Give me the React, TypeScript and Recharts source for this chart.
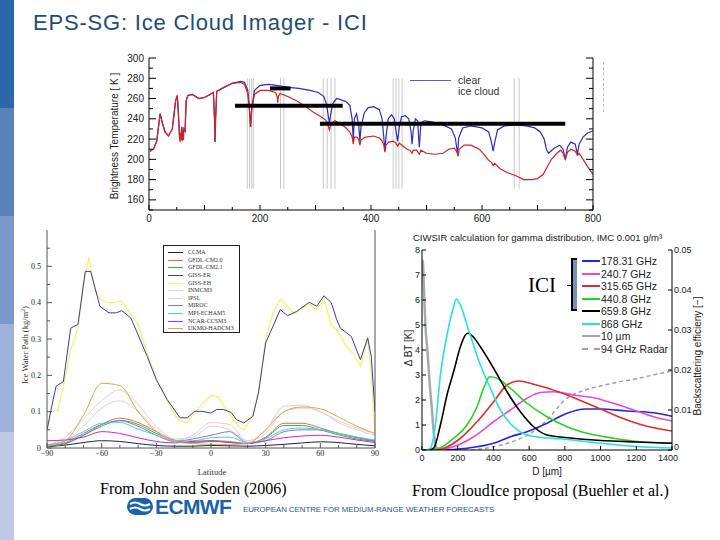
import React from 'react'
import { LineChart, Line, XAxis, YAxis, ReferenceLine, Legend } from 'recharts'

const SANS = '"Liberation Sans", Arial, sans-serif'
const SERIF = '"Liberation Serif", "Times New Roman", serif'

// ---------- top panel: brightness temperature spectrum (GHz, K) ----------
const CLEAR_GHZ = [2, 8, 14, 20, 24, 29, 35, 42, 48, 51, 53, 55, 57, 59, 61, 63, 65, 67, 70, 78, 90, 100, 110, 116, 118, 119, 120, 122, 135, 150, 165, 172, 178, 181, 183, 185, 190, 200, 215, 230, 250, 270, 290, 305, 315, 320, 323, 325, 327, 331, 338, 345, 355, 362, 366, 368, 370, 374, 378, 380, 382, 388, 395, 405, 415, 420, 423, 425, 427, 431, 437, 442, 445, 448, 451, 455, 462, 468, 472, 474, 476, 480, 484, 487, 490, 496, 510, 530, 545, 552, 556, 558, 565, 580, 600, 612, 617, 620, 623, 628, 640, 660, 680, 695, 705, 712, 716, 720, 730, 740, 746, 750, 754, 760, 768, 772, 775, 782, 790, 800]
const CLEAR_TB = [208, 210, 218, 245, 236, 227, 223, 230, 258, 263, 245, 222, 220, 232, 222, 230, 228, 258, 263, 264, 260, 261, 264, 266, 240, 217, 240, 267, 271, 275, 277, 276, 268, 250, 232, 250, 268, 273, 274, 273, 271, 270, 268, 266, 262, 254, 243, 236, 243, 255, 260, 259, 257, 253, 240, 219, 240, 245, 233, 218, 232, 246, 251, 252, 249, 240, 222, 208, 222, 240, 244, 240, 228, 218, 232, 242, 243, 240, 228, 215, 228, 240, 238, 212, 236, 238, 237, 234, 230, 221, 205, 221, 231, 233, 231, 227, 217, 208, 217, 229, 233, 234, 233, 231, 227, 220, 210, 206, 211, 214, 210, 200, 212, 217, 215, 205, 215, 222, 226, 228]

const CLOUD_GHZ = [2, 8, 14, 20, 24, 29, 35, 42, 48, 51, 53, 55, 56, 57, 58, 59, 60, 61, 62, 63, 65, 67, 70, 78, 90, 100, 110, 116, 118, 119, 120, 122, 135, 150, 165, 172, 178, 181, 183, 185, 190, 200, 215, 228, 231, 232, 233, 236, 250, 265, 280, 295, 310, 318, 322, 325, 328, 335, 345, 355, 362, 366, 368, 370, 375, 378, 380, 382, 390, 405, 415, 420, 423, 425, 427, 432, 440, 445, 448, 451, 458, 465, 470, 474, 476, 482, 487, 490, 500, 515, 530, 540, 550, 555, 557, 559, 568, 580, 595, 605, 612, 617, 620, 623, 632, 645, 660, 664, 675, 690, 700, 710, 718, 725, 735, 742, 746, 750, 754, 760, 768, 772, 775, 782, 790, 800]
const CLOUD_TB = [208, 210, 218, 245, 236, 227, 223, 230, 258, 263, 245, 222, 217, 226, 219, 232, 218, 226, 219, 230, 228, 258, 263, 264, 260, 261, 264, 266, 240, 217, 240, 267, 271, 275, 276, 274, 265, 248, 232, 248, 264, 268, 268, 266, 262, 256, 262, 265, 262, 258, 253, 247, 242, 239, 235, 229, 235, 238, 235, 231, 227, 222, 215, 222, 222, 219, 214, 219, 222, 223, 221, 218, 214, 207, 214, 217, 218, 216, 213, 216, 213, 210, 209, 206, 209, 209, 205, 209, 206, 205, 206, 210, 211, 207, 203, 210, 214, 214, 210, 204, 199, 197, 194, 196, 191, 187, 184, 183, 180, 180, 181, 185, 193, 200, 206, 209, 206, 200, 207, 210, 208, 204, 206, 200, 193, 185]

// ICI channel positions (GHz) and the three band bars (from, to, level K)
const ICI_CHANNELS = [177, 181, 185, 188, 237, 243, 314, 321, 328, 335, 440, 445, 450, 456, 658, 667]
const BAR_FROM = [218, 155, 308]
const BAR_TO = [255, 349, 750]
const BAR_LEVEL = [270, 253, 235]

const GHZ_TICKS = [0, 50, 100, 150, 200, 250, 300, 350, 400, 450, 500, 550, 600, 650, 700, 750, 800]
const TB_TICKS = [150, 160, 170, 180, 190, 200, 210, 220, 230, 240, 250, 260, 270, 280, 290, 300]

// ---------- bottom-left: zonal mean ice water path from GCMs ----------
const MODEL_NAMES = ['CCMA', 'GFDL-CM2.0', 'GFDL-CM2.1', 'GISS-ER', 'GISS-EH', 'INMCM3', 'IPSL', 'MIROC', 'MPI-ECHAM5', 'NCAR-CCSM3', 'UKMO-HADCM3']
const MODEL_COLORS = ['#202048', '#e26a6a', '#34b834', '#3a3ab4', '#f4f46a', '#d4d4d4', '#ecc8d8', '#9470c8', '#48d4d4', '#d028c4', '#e0a64a']

const LAT10 = [-90, -80, -70, -60, -50, -40, -30, -20, -10, 0, 10, 20, 30, 40, 50, 60, 70, 80, 90]
const IWP_CCMA = [0.003, 0.008, 0.015, 0.02, 0.018, 0.012, 0.007, 0.005, 0.005, 0.007, 0.006, 0.005, 0.007, 0.01, 0.014, 0.017, 0.015, 0.01, 0.006]
const IWP_GFDL20 = [0.005, 0.012, 0.035, 0.065, 0.082, 0.07, 0.045, 0.022, 0.015, 0.02, 0.018, 0.012, 0.03, 0.068, 0.068, 0.055, 0.04, 0.028, 0.02]
const IWP_GFDL21 = [0.005, 0.012, 0.035, 0.06, 0.076, 0.065, 0.04, 0.02, 0.014, 0.018, 0.016, 0.012, 0.028, 0.062, 0.062, 0.05, 0.036, 0.025, 0.018]
const IWP_INM = [0.008, 0.03, 0.08, 0.13, 0.16, 0.12, 0.06, 0.025, 0.03, 0.06, 0.05, 0.02, 0.05, 0.115, 0.118, 0.1, 0.075, 0.055, 0.04]
const IWP_IPSL = [0.006, 0.02, 0.06, 0.11, 0.13, 0.1, 0.05, 0.02, 0.035, 0.07, 0.065, 0.02, 0.04, 0.1, 0.11, 0.1, 0.07, 0.05, 0.035]
const IWP_MIROC = [0.005, 0.015, 0.04, 0.065, 0.075, 0.06, 0.035, 0.018, 0.025, 0.035, 0.045, 0.015, 0.02, 0.045, 0.05, 0.05, 0.04, 0.03, 0.02]
const IWP_MPI = [0.008, 0.02, 0.045, 0.068, 0.07, 0.052, 0.035, 0.02, 0.02, 0.028, 0.03, 0.015, 0.025, 0.05, 0.055, 0.05, 0.04, 0.03, 0.022]
const IWP_NCAR = [0.02, 0.022, 0.03, 0.045, 0.04, 0.028, 0.018, 0.014, 0.018, 0.02, 0.015, 0.012, 0.02, 0.028, 0.033, 0.035, 0.03, 0.022, 0.015]
const IWP_UKMO = [0.008, 0.02, 0.09, 0.178, 0.172, 0.1, 0.045, 0.018, 0.012, 0.01, 0.01, 0.012, 0.05, 0.1, 0.113, 0.108, 0.085, 0.06, 0.04]

const ER_LAT = [-90, -87, -85, -81, -77, -73, -69, -66, -61, -56, -52, -49, -44, -42, -35, -30, -24, -17, -13, -9, -5, 0, 3, 7, 11, 14, 18, 23, 26, 30, 34, 38, 42, 47, 54, 58, 62, 66, 69, 71, 77, 82, 86, 88, 90]
const IWP_ER = [0.05, 0.124, 0.17, 0.183, 0.33, 0.34, 0.486, 0.486, 0.39, 0.372, 0.372, 0.378, 0.358, 0.335, 0.252, 0.188, 0.133, 0.083, 0.083, 0.101, 0.101, 0.096, 0.106, 0.106, 0.098, 0.078, 0.069, 0.087, 0.151, 0.289, 0.335, 0.381, 0.364, 0.376, 0.401, 0.39, 0.419, 0.4, 0.353, 0.33, 0.307, 0.243, 0.303, 0.25, 0.1]
const EH_LAT = [-90, -88, -84, -81, -77, -73, -70, -67, -64, -61, -57, -53, -49, -44, -40, -35, -30, -25, -20, -17, -13, -10, -5, 0, 4, 8, 12, 16, 18, 22, 26, 30, 34, 38, 42, 46, 50, 54, 58, 62, 66, 70, 74, 78, 82, 86, 88, 90]
const IWP_EH = [0.045, 0.1, 0.105, 0.17, 0.27, 0.33, 0.45, 0.525, 0.44, 0.41, 0.4, 0.4, 0.405, 0.37, 0.34, 0.26, 0.19, 0.14, 0.09, 0.075, 0.07, 0.09, 0.12, 0.145, 0.14, 0.11, 0.08, 0.055, 0.05, 0.08, 0.15, 0.3, 0.37, 0.41, 0.39, 0.37, 0.385, 0.395, 0.38, 0.41, 0.34, 0.32, 0.28, 0.26, 0.225, 0.3, 0.2, 0.04]

const LAT_TICKS = [-90, -80, -70, -60, -50, -40, -30, -20, -10, 0, 10, 20, 30, 40, 50, 60, 70, 80, 90]
const IWP_TICKS = [0, 0.05, 0.1, 0.15, 0.2, 0.25, 0.3, 0.35, 0.4, 0.45, 0.5, 0.55]

// ---------- bottom-right: CIWSIR sensitivity vs particle size ----------
const BAND_NAMES = ['178.31 GHz', '240.7 GHz', '315.65 GHz', '440.8 GHz', '659.8 GHz', '868 GHz', '10 µm', '94 GHz Radar']
const BAND_COLORS = ['#2424dc', '#e24ae2', '#e02c2c', '#26d226', '#000000', '#26e2e2', '#a8a8a8', '#a0a0a0']

const D_178 = [0, 100, 252, 401, 495, 588, 700, 812, 915, 999, 1148, 1297, 1400]
const BT_178 = [0, 0, 0.07, 0.27, 0.53, 0.73, 1.07, 1.47, 1.64, 1.64, 1.56, 1.49, 1.35]
const D_240 = [0, 100, 177, 289, 401, 495, 588, 663, 737, 849, 961, 1073, 1185, 1297, 1400]
const BT_240 = [0, 0.02, 0.13, 0.53, 1.13, 1.6, 2.07, 2.3, 2.33, 2.2, 2.09, 1.87, 1.6, 1.33, 1.16]
const D_315 = [0, 60, 121, 215, 308, 401, 476, 541, 625, 719, 812, 924, 1036, 1148, 1260, 1400]
const BT_315 = [0, 0.01, 0.07, 0.47, 1.13, 1.93, 2.6, 2.76, 2.63, 2.44, 2.2, 1.87, 1.53, 1.2, 0.95, 0.76]
const D_440 = [0, 50, 103, 177, 252, 308, 345, 379, 420, 495, 588, 700, 812, 924, 1073, 1223, 1400]
const BT_440 = [0, 0.01, 0.09, 0.47, 1.0, 1.73, 2.47, 2.93, 2.87, 2.47, 1.87, 1.33, 0.93, 0.67, 0.47, 0.33, 0.27]
const D_659 = [0, 40, 65, 103, 140, 177, 215, 243, 258, 290, 327, 401, 476, 551, 625, 700, 800, 900, 1000, 1200, 1400]
const BT_659 = [0, 0.01, 0.07, 1.0, 2.2, 3.13, 4.13, 4.6, 4.67, 4.5, 4.13, 3.27, 2.33, 1.53, 0.93, 0.6, 0.5, 0.43, 0.38, 0.32, 0.27]
const D_868 = [0, 30, 47, 75, 103, 140, 177, 192, 215, 252, 327, 383, 439, 513, 588, 700, 800, 900, 1000, 1100, 1200, 1400]
const BT_868 = [0, 0.02, 0.07, 1.0, 3.0, 4.6, 5.73, 6.04, 5.8, 5.0, 3.4, 2.47, 1.6, 0.93, 0.6, 0.48, 0.43, 0.35, 0.27, 0.2, 0.14, 0.08]
const D_IR = [0, 5, 10, 19, 30, 37, 47, 55, 62, 75, 90, 100]
const BT_IR = [7.6, 7.5, 6.6, 5.0, 4.0, 3.3, 2.3, 1.7, 1.0, 0.2, 0.02, 0]
const D_RADAR = [0, 250, 400, 500, 600, 700, 800, 900, 1000, 1100, 1200, 1300, 1400]
const BSC_RADAR = [0, 0, 0.0008, 0.002, 0.004, 0.0075, 0.0125, 0.0148, 0.016, 0.017, 0.0178, 0.0188, 0.0198]

const D_TICKS = [0, 200, 400, 600, 800, 1000, 1200, 1400]
const DBT_TICKS = [0, 1, 2, 3, 4, 5, 6, 7, 8]
const BSC_TICKS = [0, 0.01, 0.02, 0.03, 0.04, 0.05]

const SIDEBAR = ['#2c67a6', '#5a82ba', '#7c98c9', '#9db1d9', '#bdc9e6']

const pts = (xs: number[], ys: number[]) => xs.map((x, i) => ({ x, y: ys[i] }))

type Side = 'bottom' | 'top' | 'left' | 'right'
interface TickOpts {
  side: Side
  len: (v: number) => number
  label?: (v: number) => string
  nudge?: (v: number) => number
  size?: number
  font?: string
  gap?: number
  color?: string
}

// ticks drawn inward from the frame, labels outside
const tickRenderer = (o: TickOpts) => (props: any) => {
  const { x, y, payload } = props
  const v = payload.value as number
  const l = o.len(v)
  const txt = o.label ? o.label(v) : ''
  const gap = o.gap ?? 3
  const shift = o.nudge ? o.nudge(v) : 0
  const stroke = o.color ?? '#000'
  const tp = { fontSize: o.size ?? 10, fontFamily: o.font ?? SANS, fill: '#222' }
  if (o.side === 'bottom') {
    return (
      <g>
        {l > 0 && <line x1={x} y1={y} x2={x} y2={y - l} stroke={stroke} />}
        {txt && <text x={x + shift} y={y + gap} dy="0.75em" textAnchor="middle" {...tp}>{txt}</text>}
      </g>
    )
  }
  if (o.side === 'top') {
    return <g>{l > 0 && <line x1={x} y1={y} x2={x} y2={y + l} stroke={stroke} />}</g>
  }
  if (o.side === 'left') {
    return (
      <g>
        {l > 0 && <line x1={x} y1={y} x2={x + l} y2={y} stroke={stroke} />}
        {txt && <text x={x - gap} y={y + shift} dy="0.35em" textAnchor="end" {...tp}>{txt}</text>}
      </g>
    )
  }
  return (
    <g>
      {l > 0 && <line x1={x} y1={y} x2={x - l} y2={y} stroke={stroke} />}
      {txt && <text x={x + gap} y={y + shift} dy="0.35em" textAnchor="start" {...tp}>{txt}</text>}
    </g>
  )
}

const noTick = () => <g />

const SpectrumKey = () => (
  <div style={{ fontFamily: SANS, fontSize: 10.5, color: '#333', lineHeight: '11px', whiteSpace: 'nowrap' }}>
    <div style={{ display: 'flex', alignItems: 'center' }}>
      <span style={{ display: 'inline-block', width: 41, borderTop: '1px solid #5a5ad0', marginRight: 7 }} />
      clear
    </div>
    <div style={{ paddingLeft: 48 }}>ice cloud</div>
  </div>
)

function SpectrumPanel() {
  const clear = pts(CLEAR_GHZ, CLEAR_TB)
  const cloud = pts(CLOUD_GHZ, CLOUD_TB)
  return (
    <div style={{ position: 'absolute', left: 100, top: 45 }}>
      <LineChart width={520} height={190} margin={{ top: 13, right: 0, bottom: 0, left: 0 }}>
        <XAxis
          dataKey="x" type="number" domain={[0, 800]} ticks={GHZ_TICKS} interval={0} allowDataOverflow
          height={25} tickSize={0} tickMargin={0} tickLine={false} axisLine={{ stroke: '#000' }}
          tick={tickRenderer({ side: 'bottom', len: v => (v % 100 === 0 ? 5 : 3), label: v => (v % 200 === 0 ? String(v) : ''), gap: 4 })}
        />
        <XAxis
          xAxisId="top" orientation="top" dataKey="x" type="number" domain={[0, 800]} ticks={GHZ_TICKS} interval={0}
          allowDataOverflow height={0} tickSize={0} tickMargin={0} tickLine={false} axisLine={{ stroke: '#000' }}
          tick={tickRenderer({ side: 'top', len: v => (v % 100 === 0 ? 5 : 3) })}
        />
        <YAxis
          type="number" domain={[150, 300]} ticks={TB_TICKS} interval={0} allowDataOverflow width={49}
          tickSize={0} tickMargin={0} tickLine={false} axisLine={{ stroke: '#000' }}
          tick={tickRenderer({ side: 'left', len: v => (v % 20 === 0 ? 7 : 4), label: v => (v % 20 === 0 && v >= 160 ? String(v) : ''), gap: 5 })}
        />
        <YAxis
          yAxisId="right" orientation="right" type="number" domain={[150, 300]} ticks={TB_TICKS} interval={0}
          allowDataOverflow width={27} tickSize={0} tickMargin={0} tickLine={false} axisLine={{ stroke: '#000' }}
          tick={tickRenderer({ side: 'right', len: v => (v % 20 === 0 ? 7 : 4) })}
        />
        {ICI_CHANNELS.map(f => (
          <ReferenceLine key={`ch${f}`} segment={[{ x: f, y: 171 }, { x: f, y: 280 }]} stroke="#c8c8c8" strokeWidth={1} />
        ))}
        <Line data={clear} dataKey="y" name="clear" stroke="#2c2cc4" strokeWidth={1.2} dot={false} isAnimationActive={false} />
        <Line data={cloud} dataKey="y" name="ice cloud" stroke="#d42222" strokeWidth={1.2} dot={false} isAnimationActive={false} />
        {BAR_FROM.map((f, i) => (
          <ReferenceLine key={`bar${i}`} segment={[{ x: f, y: BAR_LEVEL[i] }, { x: BAR_TO[i], y: BAR_LEVEL[i] }]} stroke="#000" strokeWidth={4} />
        ))}
        <Legend
          layout="vertical" align="center" verticalAlign="middle"
          wrapperStyle={{ left: 310, top: 30, width: 110 }}
          content={() => <SpectrumKey />}
        />
      </LineChart>
    </div>
  )
}

const ModelKey = () => (
  <div style={{ border: '1px solid #222', background: '#fff', padding: '3px 4px', width: 77, height: 88, boxSizing: 'border-box' }}>
    {MODEL_NAMES.map((n, i) => (
      <div key={n} style={{ display: 'flex', alignItems: 'center', height: 7.6 }}>
        <span style={{ display: 'inline-block', width: 15, borderTop: `1px solid ${MODEL_COLORS[i]}`, marginRight: 5 }} />
        <span style={{ fontSize: 6, fontFamily: SERIF, color: '#333', lineHeight: '7px', whiteSpace: 'nowrap' }}>{n}</span>
      </div>
    ))}
  </div>
)

function IwpPanel() {
  const small = [IWP_CCMA, IWP_GFDL20, IWP_GFDL21, null, null, IWP_INM, IWP_IPSL, IWP_MIROC, IWP_MPI, IWP_NCAR, IWP_UKMO]
  const fmtLat = (v: number) => (v % 30 === 0 ? (v < 0 ? `−${-v}` : String(v)) : '')
  const fmtIwp = (v: number) => (Math.round(v * 100) % 10 === 0 ? String(v) : '')
  return (
    <div style={{ position: 'absolute', left: 20, top: 225 }}>
      <LineChart width={370} height={245} margin={{ top: 5, right: 0, bottom: 0, left: 0 }}>
        <XAxis
          dataKey="x" type="number" domain={[-90, 90]} ticks={LAT_TICKS} interval={0} allowDataOverflow
          height={22} tickSize={0} tickMargin={0} tickLine={false} axisLine={{ stroke: '#555' }}
          tick={tickRenderer({ side: 'bottom', len: v => (v % 30 === 0 ? 5 : 3), label: fmtLat, size: 8, font: SERIF, gap: 2, color: '#555' })}
        />
        <XAxis
          xAxisId="top" orientation="top" dataKey="x" type="number" domain={[-90, 90]} allowDataOverflow
          height={0} tickLine={false} axisLine={{ stroke: '#555' }} tick={noTick}
        />
        <YAxis
          type="number" domain={[0, 0.6]} ticks={IWP_TICKS} interval={0} allowDataOverflow width={27}
          tickSize={0} tickMargin={0} tickLine={false} axisLine={{ stroke: '#555' }}
          tick={tickRenderer({ side: 'left', len: v => (Math.round(v * 100) % 10 === 0 ? 5 : 3), label: fmtIwp, size: 8, font: SERIF, gap: 6, color: '#555' })}
        />
        <YAxis
          yAxisId="right" orientation="right" type="number" domain={[0, 0.6]} allowDataOverflow width={15}
          tickLine={false} axisLine={{ stroke: '#555' }} tick={noTick}
        />
        {small.map((vals, i) =>
          vals ? (
            <Line key={MODEL_NAMES[i]} data={pts(LAT10, vals)} dataKey="y" name={MODEL_NAMES[i]} type="monotone"
              stroke={MODEL_COLORS[i]} strokeWidth={1} dot={false} isAnimationActive={false} />
          ) : null
        )}
        <Line data={pts(EH_LAT, IWP_EH)} dataKey="y" name="GISS-EH" stroke={MODEL_COLORS[4]} strokeWidth={1.3} dot={false} isAnimationActive={false} />
        <Line data={pts(ER_LAT, IWP_ER)} dataKey="y" name="GISS-ER" stroke={MODEL_COLORS[3]} strokeWidth={1} dot={false} isAnimationActive={false} />
        <Legend
          layout="vertical" align="center" verticalAlign="middle"
          wrapperStyle={{ left: 143, top: 20, width: 77 }}
          content={() => <ModelKey />}
        />
      </LineChart>
    </div>
  )
}

const BandKey = () => (
  <div style={{ fontFamily: SANS, fontSize: 10.5, color: '#222', whiteSpace: 'nowrap' }}>
    {BAND_NAMES.map((n, i) => (
      <div key={n} style={{ display: 'flex', alignItems: 'center', height: 12.5 }}>
        <span
          style={{
            display: 'inline-block', width: 18, marginRight: 1,
            borderTop: i === 7 ? `2px dashed ${BAND_COLORS[i]}` : `2px solid ${BAND_COLORS[i]}`,
          }}
        />
        {n}
      </div>
    ))}
  </div>
)

function SensitivityPanel() {
  const series = [
    pts(D_178, BT_178), pts(D_240, BT_240), pts(D_315, BT_315), pts(D_440, BT_440),
    pts(D_659, BT_659), pts(D_868, BT_868),
  ]
  return (
    <div style={{ position: 'absolute', left: 400, top: 240 }}>
      <LineChart width={320} height={235} margin={{ top: 10, right: 0, bottom: 0, left: 0 }}>
        <XAxis
          dataKey="x" type="number" domain={[0, 1400]} ticks={D_TICKS} interval={0} allowDataOverflow
          height={25} tickSize={0} tickMargin={0} tickLine={false} axisLine={{ stroke: '#000' }}
          tick={tickRenderer({ side: 'bottom', len: () => 4, label: v => String(v), nudge: v => (v === 1400 ? -4 : 0), size: 9, gap: 4.5 })}
        />
        <YAxis
          type="number" domain={[0, 8]} ticks={DBT_TICKS} interval={0} allowDataOverflow width={22}
          tickSize={0} tickMargin={0} tickLine={false} axisLine={{ stroke: '#000' }}
          tick={tickRenderer({ side: 'left', len: () => 4, label: v => String(v), size: 9, gap: 2 })}
        />
        <YAxis
          yAxisId="bsc" orientation="right" type="number" domain={[0, 0.05]} ticks={BSC_TICKS} interval={0}
          allowDataOverflow width={48} tickSize={0} tickMargin={0} tickLine={false} axisLine={{ stroke: '#000' }}
          tick={tickRenderer({ side: 'right', len: () => 4, label: v => (v === 0 ? '0' : v.toFixed(2)), nudge: v => (v === 0 ? -3 : 0), size: 9, gap: 2 })}
        />
        <Line data={pts(D_RADAR, BSC_RADAR)} yAxisId="bsc" dataKey="y" name={BAND_NAMES[7]} type="monotone"
          stroke={BAND_COLORS[7]} strokeWidth={1.5} strokeDasharray="4 3" dot={false} isAnimationActive={false} />
        <Line data={pts(D_IR, BT_IR)} dataKey="y" name={BAND_NAMES[6]} type="monotone"
          stroke={BAND_COLORS[6]} strokeWidth={2.5} dot={false} isAnimationActive={false} />
        {series.map((d, i) => (
          <Line key={BAND_NAMES[i]} data={d} dataKey="y" name={BAND_NAMES[i]} type="monotone"
            stroke={BAND_COLORS[i]} strokeWidth={1.6} dot={false} isAnimationActive={false} />
        ))}
        <Legend
          layout="vertical" align="center" verticalAlign="middle"
          wrapperStyle={{ left: 182, top: 15, width: 110 }}
          content={() => <BandKey />}
        />
      </LineChart>
    </div>
  )
}

const abs = (left: number, top: number, extra: React.CSSProperties = {}): React.CSSProperties => ({
  position: 'absolute', left, top, whiteSpace: 'nowrap', ...extra,
})

const vText = (cx: number, cy: number, extra: React.CSSProperties = {}): React.CSSProperties => ({
  position: 'absolute', left: cx, top: cy, whiteSpace: 'nowrap',
  transform: 'translate(-50%, -50%) rotate(-90deg)', ...extra,
})

export default function App() {
  return (
    <div style={{ position: 'absolute', left: 0, top: 0, width: 720, height: 540, background: '#fff', overflow: 'hidden' }}>
      {SIDEBAR.map((c, i) => (
        <div key={c} style={{ position: 'absolute', left: 0, top: i * 108, width: 14, height: 108, background: c }} />
      ))}

      <div style={abs(33, 12, { fontFamily: SANS, fontSize: 22, lineHeight: '22px', letterSpacing: 0.8, color: '#1f4d74' })}>
        EPS-SG: Ice Cloud Imager - ICI
      </div>

      <SpectrumPanel />
      <div style={vText(114, 136, { fontFamily: SANS, fontSize: 10, color: '#222' })}>Brightness Temperature [ K ]</div>
      <div style={abs(603, 62, { height: 50, borderLeft: '1px dashed #bbb' })} />

      <IwpPanel />
      <div style={vText(25, 345, { fontFamily: SERIF, fontSize: 8.5, color: '#333' })}>
        Ice Water Path (kg/m<sup style={{ fontSize: 6 }}>2</sup>)
      </div>
      <div style={abs(212, 472, { transform: 'translate(-50%, -50%)', fontFamily: SERIF, fontSize: 8.5, color: '#333' })}>Latitude</div>

      <SensitivityPanel />
      <div style={abs(413, 232, { fontFamily: SANS, fontSize: 9.5, lineHeight: '12px', color: '#222' })}>
        CIWSIR calculation for gamma distribution, IMC 0.001 g/m³
      </div>
      <div style={vText(408, 348, { fontFamily: SANS, fontSize: 10, color: '#222' })}>Δ BT [K]</div>
      <div style={vText(697, 356, { fontFamily: SANS, fontSize: 10, color: '#222' })}>Backscattering efficieny [−]</div>
      <div style={abs(547, 471, { transform: 'translate(-50%, -50%)', fontFamily: SANS, fontSize: 10, color: '#222' })}>D [µm]</div>

      <div style={abs(528, 275, { fontFamily: SERIF, fontSize: 21, lineHeight: '21px', color: '#000' })}>ICI</div>
      <div style={abs(567, 285, { width: 5, height: 1, background: '#000' })} />
      <div style={abs(573, 260, { width: 4, height: 49, background: '#7591bb' })} />
      <div style={abs(571, 258, { width: 2, height: 53, background: '#000' })} />
      <div style={abs(571, 258, { width: 6, height: 2, background: '#000' })} />
      <div style={abs(571, 309, { width: 6, height: 2, background: '#000' })} />

      <div style={abs(100, 481, { fontFamily: SERIF, fontSize: 16, lineHeight: '16px', color: '#000' })}>From John and Soden (2006)</div>
      <div style={abs(412, 483, { fontFamily: SERIF, fontSize: 16, lineHeight: '16px', color: '#000' })}>From CloudIce proposal (Buehler et al.)</div>

      <svg style={{ position: 'absolute', left: 127, top: 498 }} width={26} height={17}>
        <rect x={0} y={0} width={26} height={17} rx={8.5} fill="#1b63a9" />
        <path d="M3 6 Q8 3 13 6 T23 6" stroke="#fff" strokeWidth={2.2} fill="none" />
        <path d="M3 11 Q8 8 13 11 T23 11" stroke="#fff" strokeWidth={2.2} fill="none" />
      </svg>
      <div style={abs(155, 496, { fontFamily: SANS, fontWeight: 700, fontSize: 21, lineHeight: '21px', letterSpacing: -0.6, color: '#1b63a9' })}>ECMWF</div>
      <div style={abs(243, 506, { fontFamily: SANS, fontSize: 7.8, lineHeight: '8px', color: '#24578f' })}>
        EUROPEAN CENTRE FOR MEDIUM-RANGE WEATHER FORECASTS
      </div>
    </div>
  )
}
